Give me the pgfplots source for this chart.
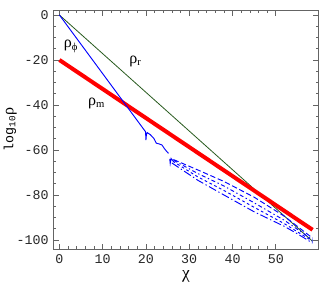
\documentclass[border=0pt]{standalone}
\usepackage{fontspec}
\setmainfont{Liberation Serif}
\newfontfamily\tickfont{Liberation Mono}
\usepackage{pgfplots}
\pgfplotsset{compat=1.18}
\definecolor{framegray}{RGB}{100,100,100}
\definecolor{dkgreen}{RGB}{40,90,30}
\begin{document}
\begin{tikzpicture}
\begin{axis}[
  scale only axis,
  width=199pt, height=179pt,
  xmin=-1.4, xmax=59.9,
  ymin=-104, ymax=2.1,
  axis line style={framegray, line width=0.6pt},
  tick style={framegray, line width=0.5pt},
  tick align=inside,
  major tick length=4pt,
  minor tick length=2pt,
  xtick={0,10,20,30,40,50},
  xticklabels={0,10,20,30,40,50},
  ytick={-100,-80,-60,-40,-20,0},
  yticklabels={{-100},{-80},{-60},{-40},{-20},{0}},
  minor x tick num=4,
  minor y tick num=3,
  ticklabel style={font=\tickfont\fontsize{10}{12}\selectfont, text=black!85},
  xticklabel style={yshift=-1pt},
  xlabel={\fontsize{13}{14}\selectfont χ},
  ylabel={{\tickfont\fontsize{10}{12}\selectfont log\textsubscript{10}}\fontsize{12}{14}\selectfont ρ},
  xlabel style={yshift=2pt},
  ylabel style={yshift=-7pt},
  clip=true,
]
% rho_r
\addplot[dkgreen, line width=0.6pt] coordinates {(0,0) (58.5,-100.6)};
% rho_m
\addplot[red, line width=3pt] coordinates {(0,-20) (58.5,-95.5)};
% rho_phi main
\addplot[blue, line width=0.7pt] coordinates {
(0,0) (19.9,-51.9) (20.0,-55.6) (20.1,-53.2) (20.3,-52.3) (21.0,-53.2) (21.8,-54.8)
(22.4,-57.0) (23.0,-57.3) (23.7,-57.8) (24.3,-59.5) (24.8,-60.7) (25.2,-61.5)};
\addplot[blue, line width=0.7pt] coordinates {
(25.5,-64.0) (25.6,-66.0) (25.8,-63.8) (26.1,-64.6) (26.4,-64.3)};
% fan of dashed lines
\addplot[blue, line width=0.7pt, dash pattern=on 4pt off 2pt] coordinates {
(26.4,-64.3) (32,-68.9) (38,-74.0) (45,-81.0) (52,-89.5) (55,-94.0) (58.5,-99.2)};
\addplot[blue, line width=0.7pt, dash pattern=on 3pt off 2pt on 1pt off 2pt] coordinates {
(26.4,-64.6) (32,-70.5) (38,-76.0) (45,-83.5) (52,-91.3) (55,-95.3) (58.5,-100.0)};
\addplot[blue, line width=0.7pt, dash pattern=on 2pt off 2pt] coordinates {
(26.2,-65.0) (32,-72.0) (38,-78.0) (45,-85.5) (52,-92.8) (55,-96.4) (58.5,-100.6)};
\addplot[blue, line width=0.7pt, dash pattern=on 6pt off 2pt on 1pt off 2pt] coordinates {
(26.0,-65.8) (32,-73.5) (38,-80.0) (45,-87.5) (52,-94.0) (55,-97.3) (58.5,-101.4)};
\node[font=\fontsize{12}{14}\selectfont] at (axis cs:2.7,-14) {ρ\textsubscript{ϕ}};
\node[font=\fontsize{12}{14}\selectfont] at (axis cs:17.6,-20.7) {ρ\textsubscript{r}};
\node[font=\fontsize{12}{14}\selectfont] at (axis cs:8.6,-39.2) {ρ\textsubscript{m}};
\end{axis}
\pgfresetboundingbox
\path (current axis.south west) ++(-40pt,-29.3pt) coordinate (bbsw);
\path (current axis.north east) ++(1pt,7.7pt) coordinate (bbne);
\path[use as bounding box] (bbsw) rectangle (bbne);
\end{tikzpicture}
\end{document}
